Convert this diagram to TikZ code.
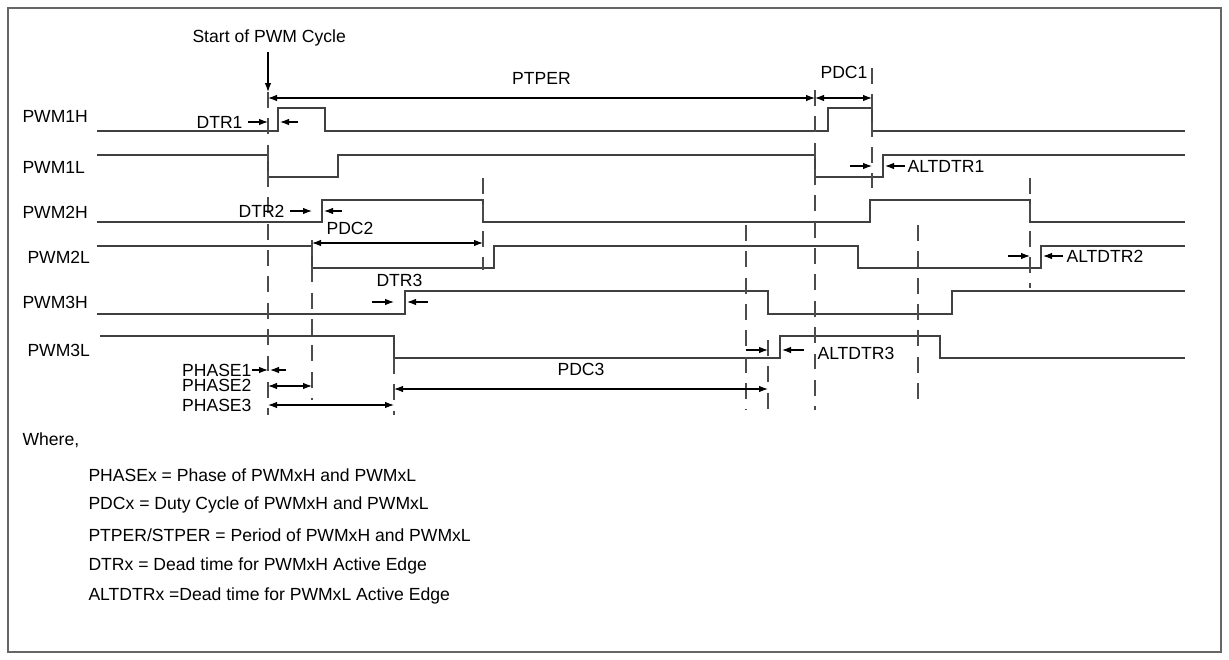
\documentclass[tikz,border=0pt]{standalone}
\usepackage{fontspec}
\setmainfont{Liberation Sans}
\usetikzlibrary{arrows.meta}

\begin{document}
\begin{tikzpicture}[x=0.02cm, y=-0.02cm, line width=0.6pt,
		font=\fontsize{10}{12}\selectfont,
		>={Latex[length=1.8mm,width=1.3mm]},
		sig/.style={line width=0.7pt, color=black!75},
		tick/.style={dash pattern=on 9pt off 6pt, color=black!70},
		lbl/.style={anchor=west, inner sep=0pt},
		rlbl/.style={anchor=east, inner sep=0pt}]
	\useasboundingbox (0, 0) rectangle (1229, 659);
	\draw[color=black!60] (8, 8) rectangle (1221, 652);
	% signal names
	\node[lbl] (n1h) at (22, 116) {PWM1H};
	\node[lbl] (n1l) at (22, 167) {PWM1L};
	\node[lbl] (n2h) at (22, 212) {PWM2H};
	\node[lbl] (n2l) at (27, 257) {PWM2L};
	\node[lbl] (n3h) at (22, 302) {PWM3H};
	\node[lbl] (n3l) at (27, 350) {PWM3L};
	% waveforms
	\draw[sig] (97, 131) -| (278, 108) -| (325, 131) -| (828, 108) -| (872, 131) -- (1185, 131);
	\draw[sig] (97, 155) -| (268, 177) -| (338, 155) -| (815, 177) -| (883, 155) -- (1185, 155);
	\draw[sig] (97, 222) -| (322, 200) -| (483, 222) -| (870, 200) -| (1030, 222) -- (1185, 222);
	\draw[sig] (97, 246) -| (312, 268) -| (494, 246) -| (858, 268) -| (1041, 246) -- (1185, 246);
	\draw[sig] (97, 314) -| (405, 291) -| (768, 314) -| (952, 291) -- (1185, 291);
	\draw[sig] (100, 336) -| (394, 358) -| (780, 336) -| (940, 358) -- (1185, 358);
	% dashed markers
	\draw[tick] (268, 92) -- (268, 415);
	\draw[tick] (312, 240) -- (312, 400);
	\draw[tick] (394, 358) -- (394, 415);
	\draw[tick] (483, 178) -- (483, 270);
	\draw[tick] (746, 225) -- (746, 410);
	\draw[tick] (768, 340) -- (768, 410);
	\draw[tick] (815, 90) -- (815, 410);
	\draw[tick] (872, 68) -- (872, 188);
	\draw[tick] (918, 225) -- (918, 405);
	\draw[tick] (1030, 178) -- (1030, 288);
	% start of cycle
	\node[lbl] (start) at (192, 38) {Start of PWM Cycle};
	\coordinate (s0) at (268, 52);
	\coordinate (s1) at (268, 92);
	\draw[->] (s0) -- (s1);
	% periods and duty cycles
	\coordinate (pa) at (268, 98);
	\coordinate (pb) at (815, 98);
	\coordinate (pc) at (872, 98);
	\draw[<->] (pa) -- node[above=4pt] (ptper) {PTPER} (pb);
	\draw[<->] (pb) -- (pc);
	\node[lbl] (pdc1) at (820, 72) {PDC1};
	\coordinate (d2a) at (312, 243);
	\coordinate (d2b) at (483, 243);
	\draw[<->] (d2a) -- (d2b);
	\node[lbl] (pdc2) at (326, 228) {PDC2};
	\coordinate (d3a) at (394, 389);
	\coordinate (d3b) at (768, 389);
	\draw[<->] (d3a) -- node[above=4pt] (pdc3) {PDC3} (d3b);
	% dead times
	\node[rlbl] (dtr1) at (243, 122) {DTR1};
	\draw[->] (248, 122) -- (268, 122);
	\draw[->] (298, 122) -- (280, 122);
	\node[rlbl] (dtr2) at (285, 211) {DTR2};
	\draw[->] (290, 211) -- (312, 211);
	\draw[->] (342, 211) -- (324, 211);
	\node[lbl] (dtr3) at (376, 280) {DTR3};
	\draw[->] (372, 302) -- (394, 302);
	\draw[->] (428, 302) -- (407, 302);
	\node[lbl] (alt1) at (907, 166) {ALTDTR1};
	\draw[->] (850, 166) -- (872, 166);
	\draw[->] (905, 166) -- (885, 166);
	\node[lbl] (alt2) at (1066, 256) {ALTDTR2};
	\draw[->] (1008, 256) -- (1030, 256);
	\draw[->] (1063, 256) -- (1043, 256);
	\node[lbl] (alt3) at (817, 353) {ALTDTR3};
	\draw[->] (746, 350) -- (768, 350);
	\draw[->] (804, 350) -- (782, 350);
	% phases
	\node[rlbl] (ph1) at (252, 370) {PHASE1};
	\node[rlbl] (ph2) at (252, 385) {PHASE2};
	\node[rlbl] (ph3) at (252, 405) {PHASE3};
	\draw[->] (ph1.east) -- (268, 370);
	\draw[->] (286, 370) -- (270, 370);
	\draw[<->] (268, 386) -- (312, 386);
	\draw[<->] (268, 405) -- (394, 405);
	% legend
	\node[lbl] (where) at (22, 440) {Where,};
	\node[lbl] (k1) at (88, 475) {PHASEx = Phase of PWMxH and PWMxL};
	\node[lbl] (k2) at (88, 505) {PDCx = Duty Cycle of PWMxH and PWMxL};
	\node[lbl] (k3) at (88, 535) {PTPER/STPER = Period of PWMxH and PWMxL};
	\node[lbl] (k4) at (88, 566) {DTRx = Dead time for PWMxH Active Edge};
	\node[lbl] (k5) at (88, 596) {ALTDTRx =Dead time for PWMxL Active Edge};
\end{tikzpicture}
\end{document}
